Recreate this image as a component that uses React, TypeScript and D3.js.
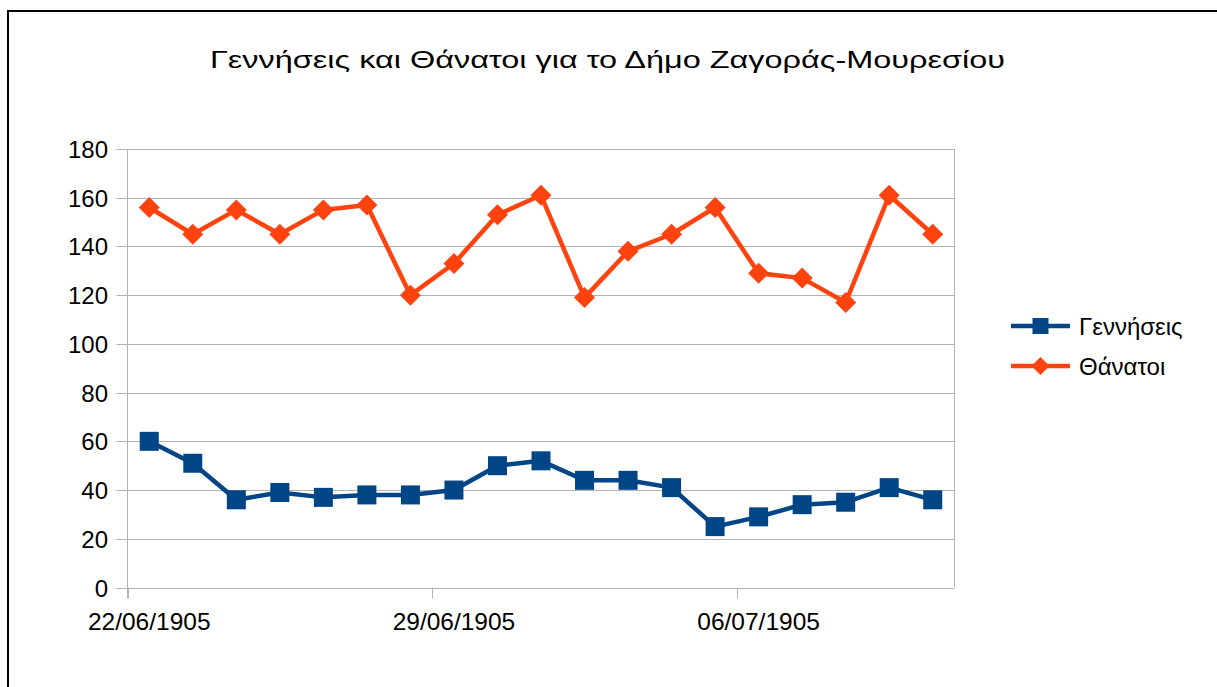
import React, { useEffect, useRef } from 'react';
import * as d3 from 'd3';

const title = 'Γεννήσεις και Θάνατοι για το Δήμο Ζαγοράς-Μουρεσίου';

const dates = [
    '22/06/1905', '23/06/1905', '24/06/1905', '25/06/1905', '26/06/1905',
    '27/06/1905', '28/06/1905', '29/06/1905', '30/06/1905', '01/07/1905',
    '02/07/1905', '03/07/1905', '04/07/1905', '05/07/1905', '06/07/1905',
    '07/07/1905', '08/07/1905', '09/07/1905', '10/07/1905',
];
const labelledDates = ['22/06/1905', '29/06/1905', '06/07/1905'];

const births = [60, 51, 36, 39, 37, 38, 38, 40, 50, 52, 44, 44, 41, 25, 29, 34, 35, 41, 36];
const deaths = [156, 145, 155, 145, 155, 157, 120, 133, 153, 161, 119, 138, 145, 156, 129, 127, 117, 161, 145];

const yTicks = [0, 20, 40, 60, 80, 100, 120, 140, 160, 180];

const seriesNames = ['Γεννήσεις', 'Θάνατοι'];
const blue = '#004586';
const orange = '#ff420e';
const grid = '#b3b3b3';
const font = '"Liberation Sans", Arial, sans-serif';

const drawChart = (container: SVGSVGElement) => {
    const svg = d3.select(container);
    svg.selectAll('*').remove();

    const W = 1217, H = 687;
    const left = 127.5, right = 954.5, top = 149, bottom = 587.5;

    svg.attr('width', W).attr('height', H);

    svg.append('rect')
        .attr('x', 0).attr('y', 0).attr('width', W).attr('height', H)
        .attr('fill', '#fff');

    // outer frame (only top and left visible in the window)
    svg.append('rect')
        .attr('x', 8).attr('y', 11).attr('width', 1400).attr('height', 900)
        .attr('fill', 'none').attr('stroke', '#000').attr('stroke-width', 2);

    // title is drawn wider than the font's natural width in the original
    svg.append('text')
        .attr('x', 607.5).attr('y', 68)
        .attr('text-anchor', 'middle')
        .attr('textLength', 795).attr('lengthAdjust', 'spacingAndGlyphs')
        .style('font-family', font).style('font-size', '24px')
        .text(title);

    const x = d3.scaleBand<string>().domain(dates).range([left, right]);
    const y = d3.scaleLinear().domain([0, 180]).range([bottom, top]);
    const cx = (d: string) => (x(d) as number) + x.bandwidth() / 2;

    const chart = svg.append('g');

    // gridlines
    chart.selectAll('.grid')
        .data(yTicks)
        .enter().append('line')
        .attr('x1', left - 11).attr('x2', right)
        .attr('y1', d => Math.round(y(d)) + 0.5).attr('y2', d => Math.round(y(d)) + 0.5)
        .attr('stroke', grid).attr('stroke-width', 1);

    chart.append('line')
        .attr('x1', left).attr('x2', left).attr('y1', top).attr('y2', bottom + 11)
        .attr('stroke', grid);
    chart.append('line')
        .attr('x1', right).attr('x2', right).attr('y1', top).attr('y2', bottom)
        .attr('stroke', grid);

    chart.selectAll('.ylab')
        .data(yTicks)
        .enter().append('text')
        .attr('x', 108).attr('y', d => y(d) + 9)
        .attr('text-anchor', 'end')
        .style('font-family', font).style('font-size', '24px')
        .text(d => d);

    chart.selectAll('.xtick')
        .data(labelledDates)
        .enter().append('line')
        .attr('x1', d => Math.round(x(d) as number) + 0.5).attr('x2', d => Math.round(x(d) as number) + 0.5)
        .attr('y1', bottom).attr('y2', bottom + 11)
        .attr('stroke', grid);

    chart.selectAll('.xlab')
        .data(labelledDates)
        .enter().append('text')
        .attr('x', d => cx(d)).attr('y', 630)
        .attr('text-anchor', 'middle')
        .style('font-family', font).style('font-size', '24.5px')
        .text(d => d);

    const line = d3.line<number>()
        .x((_, i) => cx(dates[i]))
        .y(d => y(d));

    chart.append('path')
        .datum(births)
        .attr('d', line)
        .attr('fill', 'none').attr('stroke', blue).attr('stroke-width', 4.5)
        .attr('stroke-linejoin', 'round');

    chart.append('path')
        .datum(deaths)
        .attr('d', line)
        .attr('fill', 'none').attr('stroke', orange).attr('stroke-width', 4.5)
        .attr('stroke-linejoin', 'round');

    const sq = 19;
    chart.selectAll('.sq')
        .data(births)
        .enter().append('rect')
        .attr('x', (_, i) => cx(dates[i]) - sq / 2)
        .attr('y', d => y(d) - sq / 2)
        .attr('width', sq).attr('height', sq)
        .attr('fill', blue);

    const diamond = (r: number) => `M0,${-r}L${r},0L0,${r}L${-r},0Z`;
    chart.selectAll('.dm')
        .data(deaths)
        .enter().append('path')
        .attr('transform', (d, i) => `translate(${cx(dates[i])},${y(d)})`)
        .attr('d', diamond(10.5))
        .attr('fill', orange);

    // legend
    const legend = svg.append('g');
    const rows = [
        { name: seriesNames[0], color: blue, y: 326 },
        { name: seriesNames[1], color: orange, y: 366 },
    ];
    rows.forEach((r, i) => {
        legend.append('line')
            .attr('x1', 1011).attr('x2', 1070).attr('y1', r.y).attr('y2', r.y)
            .attr('stroke', r.color).attr('stroke-width', 4.5);
        if (i === 0) {
            legend.append('rect')
                .attr('x', 1040.5 - 8).attr('y', r.y - 8).attr('width', 16).attr('height', 16)
                .attr('fill', r.color);
        } else {
            legend.append('path')
                .attr('transform', `translate(1040.5,${r.y})`)
                .attr('d', diamond(9))
                .attr('fill', r.color);
        }
        legend.append('text')
            .attr('x', 1079).attr('y', r.y + 9)
            .style('font-family', font).style('font-size', '24px')
            .text(r.name);
    });
};

const App = () => {
    const ref = useRef<SVGSVGElement>(null);

    useEffect(() => {
        if (ref.current) {
            drawChart(ref.current);
        }
    }, []);

    return (
        <svg ref={ref} style={{ position: 'absolute', left: 0, top: 0, display: 'block' }} />
    );
};

export default App;
